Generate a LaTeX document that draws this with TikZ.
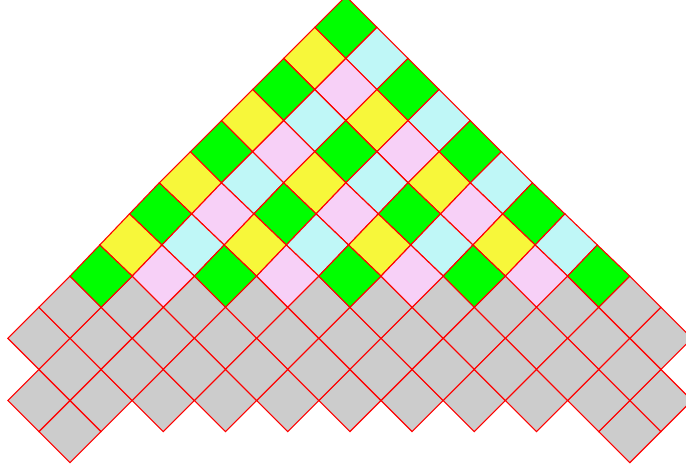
\documentclass[tikz,border=0pt]{standalone}
\definecolor{cgreen}{RGB}{0,255,0}
\definecolor{cyellow}{RGB}{247,247,58}
\definecolor{ccyan}{RGB}{191,247,247}
\definecolor{cpink}{RGB}{247,208,247}
\definecolor{cgrey}{RGB}{204,204,204}
\pgfmathdeclarefunction{sx}{1}{\pgfmathparse{(#1>6)*(-0.13*min(1,(#1-6)/3))}}
\tikzset{tile/.style={draw=red, line width=1.1pt, line join=miter}}
\newcommand\dia[3]{%
  \pgfmathsetmacro\bx{70+31.1*(#1+sx(#2-1))}\pgfmathsetmacro\by{4.3+31.1*(#2-1)}%
  \pgfmathsetmacro\rx{70+31.1*(#1+1+sx(#2))}\pgfmathsetmacro\ry{4.3+31.1*(#2)}%
  \pgfmathsetmacro\tx{70+31.1*(#1+sx(#2+1))}\pgfmathsetmacro\ty{4.3+31.1*(#2+1)}%
  \pgfmathsetmacro\lx{70+31.1*(#1-1+sx(#2))}%
  \filldraw[tile, fill=#3] (\bx,\by) -- (\rx,\ry) -- (\tx,\ty) -- (\lx,\ry) -- cycle;}
\begin{document}
\begin{tikzpicture}[x=1pt,y=1pt]
\useasboundingbox (0,0) rectangle (686,467);
\clip (0,0) rectangle (686,467);
% grey base
\dia{0}{1}{cgrey}
\dia{18}{1}{cgrey}
\foreach \u in {-1,1,...,19}{\dia{\u}{2}{cgrey}\dia{\u}{4}{cgrey}}
\foreach \u in {0,2,...,18}{\dia{\u}{3}{cgrey}\dia{\u}{5}{cgrey}}
% coloured triangle
\foreach \i in {0,...,8}{%
  \pgfmathtruncatemacro\jm{8-\i}%
  \foreach \j in {0,...,\jm}{%
    \pgfmathtruncatemacro\cu{9-\i+\j}%
    \pgfmathtruncatemacro\cv{14-\i-\j}%
    \pgfmathtruncatemacro\cc{mod(\i,2)*2+mod(\j,2)}%
    \ifcase\cc \def\fc{cgreen}\or \def\fc{ccyan}\or \def\fc{cyellow}\or \def\fc{cpink}\fi
    \dia{\cu}{\cv}{\fc}%
  }%
}
\end{tikzpicture}
\end{document}
